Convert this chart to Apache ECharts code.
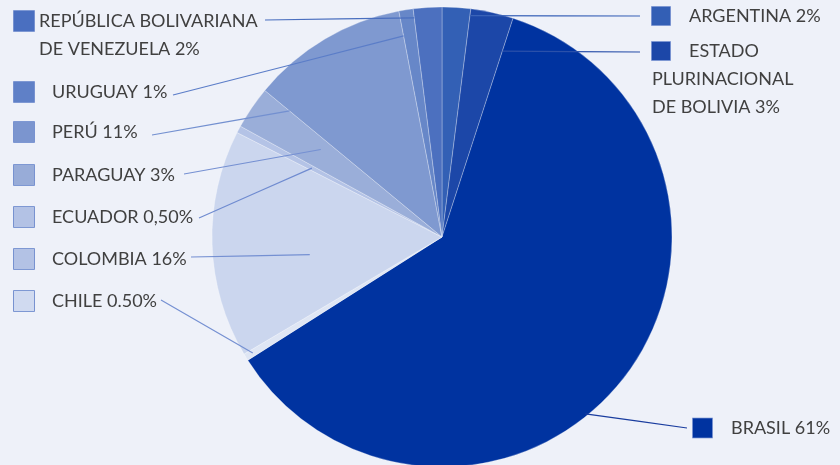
<!DOCTYPE html>
<html>
<head>
<meta charset="utf-8">
<script src="https://cdn.jsdelivr.net/npm/echarts@6/dist/echarts.min.js"></script>
<style>
  html, body { margin: 0; padding: 0; background: #eef1f9; }
  #chart { width: 840px; height: 465px; }
</style>
</head>
<body>
<div id="chart"></div>
<script>
// data
const countries = ['ARGENTINA', 'ESTADO PLURINACIONAL DE BOLIVIA', 'BRASIL', 'CHILE', 'COLOMBIA',
  'ECUADOR', 'PARAGUAY', 'PERÚ', 'URUGUAY', 'REPÚBLICA BOLIVARIANA DE VENEZUELA'];
const shares = [2, 3, 61, 0.5, 16, 0.5, 3, 11, 1, 2];

// styles
const sliceColors = ['#3360b5', '#1c47a8', '#0033a0', '#dfe6f4', '#cbd6ee',
  '#b4c3e6', '#9aaed9', '#7f99d0', '#6787c8', '#4c70bf'];
const squareColors = ['#335fb5', '#1c47a8', '#0033a0', '#d0daf0', '#b3c2e5',
  '#b3c2e5', '#98acd8', '#7b95cf', '#5f80c7', '#4a6fc0'];
const lineColors = ['#3a63b8', '#2a50aa', '#1a3d9f', '#7590d2', '#7590d2',
  '#6f8bd0', '#7590d2', '#7390d0', '#5b7dc8', '#4a6fbf'];

// label layout: x, y (middle of text block), square size, gap square->text, text-side line end,
// line anchor inside slice: t = position along slice angle (0..1), rf = radius fraction
const labelPos = [
  {x: 652, y: 16, sq: 18, gap: 19, end: [640, 16], t: 1, rf: 0.97},
  {x: 652, y: 79, sq: 18, gap: 19, end: [640, 52], t: 1, rf: 0.85},
  {x: 693, y: 428, sq: 19, gap: 19, end: [687, 428], t: 0.56, rf: 0.99},
  {x: 14, y: 301, sq: 20, gap: 18, end: [161, 300], t: 0.5, rf: 0.965},
  {x: 14, y: 259, sq: 20, gap: 18, end: [191, 257], t: 0.4, rf: 0.58},
  {x: 14, y: 217, sq: 20, gap: 18, end: [199, 218], t: 0.5, rf: 0.64},
  {x: 14, y: 175, sq: 20, gap: 18, end: [184, 174], t: 0.65, rf: 0.65},
  {x: 14, y: 132, sq: 20, gap: 18, end: [152, 135], t: 0, rf: 0.86},
  {x: 14, y: 92, sq: 20, gap: 18, end: [173, 95], t: 0, rf: 0.89},
  {x: 14, y: 35, sq: 20, gap: 5, end: [265, 20], t: 0, rf: 0.96}
];
// wrapped label lines
const labelLines = [
  ['ARGENTINA 2%'],
  ['ESTADO', 'PLURINACIONAL', 'DE BOLIVIA 3%'],
  ['BRASIL 61%'],
  ['CHILE 0.50%'],
  ['COLOMBIA 16%'],
  ['ECUADOR 0,50%'],
  ['PARAGUAY 3%'],
  ['PERÚ 11%'],
  ['URUGUAY 1%'],
  ['REPÚBLICA BOLIVARIANA', 'DE VENEZUELA 2%']
];

const CX = 442, CY = 237, R = 230;
const total = shares.reduce((a, b) => a + b, 0);
const starts = [];
let acc = 0;
shares.forEach(v => { starts.push(acc / total * 360); acc += v; });

const anchorPoint = (i) => {
  const L = labelPos[i];
  const a = (starts[i] + L.t * shares[i] / total * 360) * Math.PI / 180;
  return [CX + R * L.rf * Math.sin(a), CY - R * L.rf * Math.cos(a)];
};

const chart = echarts.init(document.getElementById('chart'));

const textStyle = {fontSize: 18, color: '#404040', fontFamily: 'Lato', lineHeight: 28};

// slices
const sliceData = countries.map((name, i) => ({
  name: name,
  value: shares[i],
  itemStyle: {color: sliceColors[i]}
}));

// same slices, transparent, carrying labels so the leader lines sit above the pie
const labelData = countries.map((name, i) => {
  const L = labelPos[i];
  const lines = labelLines[i];
  let fmt = '{sq|}{a|' + lines[0] + '}';
  for (let k = 1; k < lines.length; k++) {
    fmt += '\n{' + (L.gap < 10 ? 'b' : 'c') + '|' + lines[k] + '}';
  }
  return {
    name: name,
    value: shares[i],
    labelLine: {lineStyle: {color: lineColors[i], width: 1.2}},
    label: {
      formatter: fmt,
      rich: {
        sq: {width: L.sq, height: L.sq, backgroundColor: squareColors[i],
          borderColor: '#5a7bc6', borderWidth: 0.8},
        a: Object.assign({padding: [0, 0, 0, L.gap]}, textStyle),
        b: Object.assign({padding: [0, 0, 0, L.sq + L.gap]}, textStyle),
        c: Object.assign({padding: 0}, textStyle)
      }
    }
  };
});

chart.setOption({
  backgroundColor: '#eef1f9',
  animation: false,
  series: [
    {
      type: 'pie',
      z: 2,
      center: [CX, CY],
      radius: [0, R],
      startAngle: 90,
      clockwise: true,
      silent: true,
      itemStyle: {borderColor: 'rgba(255,255,255,0.35)', borderWidth: 0.8},
      label: {show: false},
      labelLine: {show: false},
      data: sliceData
    },
    {
      type: 'pie',
      z: 4,
      center: [CX, CY],
      radius: [0, R],
      startAngle: 90,
      clockwise: true,
      silent: true,
      avoidLabelOverlap: false,
      itemStyle: {color: 'rgba(0,0,0,0)', borderWidth: 0},
      label: {show: true, position: 'outside', fontFamily: 'Lato', fontSize: 18, color: '#404040'},
      labelLine: {show: true, showAbove: true, length: 10, length2: 10},
      labelLayout: (params) => {
        const i = params.dataIndex;
        const L = labelPos[i];
        const p0 = anchorPoint(i);
        const p2 = L.end;
        return {
          x: L.x,
          y: L.y,
          align: 'left',
          verticalAlign: 'middle',
          labelLinePoints: [p0, [(p0[0] + p2[0]) / 2, (p0[1] + p2[1]) / 2], p2]
        };
      },
      data: labelData
    }
  ]
});
</script>
</body>
</html>
